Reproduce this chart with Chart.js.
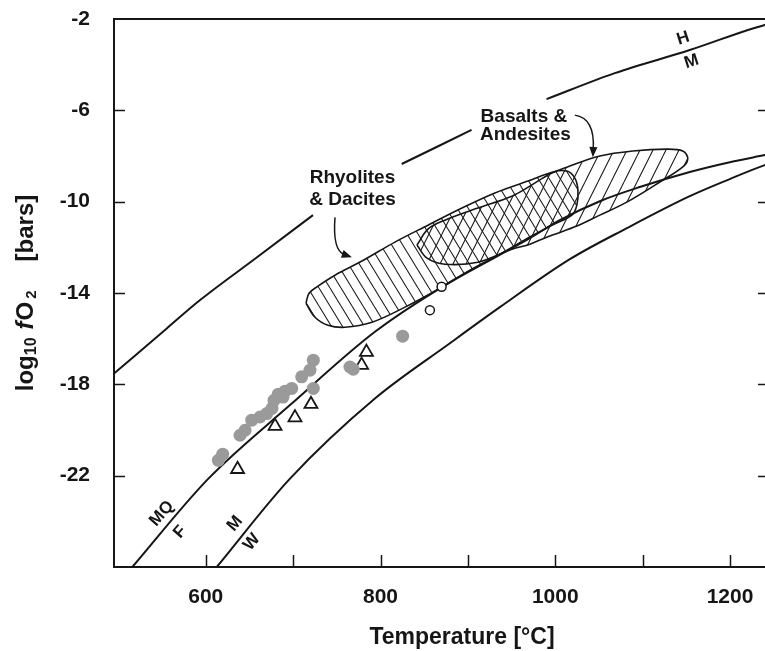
<!DOCTYPE html>
<html>
<head>
<meta charset="utf-8">
<script src="https://cdn.jsdelivr.net/npm/chart.js@4.4.1/dist/chart.umd.min.js"></script>
<style>
  html, body { margin: 0; padding: 0; background: #fff; overflow: hidden; }
  #wrap { position: relative; width: 765px; height: 651px; }
</style>
</head>
<body>
<div id="wrap"><canvas id="chart"></canvas></div>
<script>
// buffer curves: log10 fO2 [bars] against temperature [°C]
// (null = break in the line where a label sits)
const hmTemp = [495, 555.7, 593.5, 656.4, 722.7, 775, 824.2, 904.2, 950, 990.0, 1068.1, 1153.9, 1239.7, 1250];
const hmLogFO2 = [-17.53, -15.54, -14.31, -12.50, -10.59, null, -8.35, -6.86, null, -5.51, -4.37, -3.36, -2.26, -2.18];

const fmqTemp = [508, 516, 603, 696.4, 793.6, 870.3, 970.9, 1005.2, 1051, 1096.7, 1153.9, 1199.7, 1239.7, 1250];
const fmqLogFO2 = [-26.36, -26.0, -22.13, -18.91, -15.70, -13.74, -11.60, -10.81, -9.98, -9.36, -8.70, -8.27, -7.96, -7.88];

const mwTemp = [604, 612.6, 696.4, 793.6, 879.4, 936.6, 1016.7, 1081.9, 1153.9, 1199.7, 1239.7, 1250];
const mwLogFO2 = [-26.4, -26.0, -22.13, -18.62, -16.20, -14.62, -12.52, -11.16, -9.76, -9.01, -8.40, -8.28];

// outline of the Rhyolites & Dacites field (closed)
const rhyoliteTemp = [714.7, 718.2, 728.4, 747.9, 778.8, 816.5, 854.3, 893.2, 930.9, 968.7, 997.3, 1013.3, 1022.4, 1025.9, 1024.7, 1019.0,
  996.1, 970.9, 936.6, 902.3, 868.0, 828.0, 790.2, 759.3, 739.9, 725.0, 714.7];
const rhyoliteLogFO2 = [-14.45, -14.01, -13.70, -13.22, -12.60, -11.77, -11.03, -10.28, -9.62, -9.10, -8.70, -8.66, -8.97, -9.49, -10.15, -10.59,
  -11.03, -11.55, -12.30, -13.00, -13.79, -14.62, -15.28, -15.50, -15.41, -15.06, -14.45];

// outline of the Basalts & Andesites field (closed)
const basaltTemp = [841.7, 854.3, 873.7, 911.4, 950.3, 970.9, 993.8, 1013.3, 1051.0, 1088.8, 1127.6, 1145.9, 1151.6, 1147.0,
  1119.6, 1081.9, 1051.0, 1024.7, 996.1, 970.9, 950.3, 911.4, 873.7, 853.2, 841.7];
const basaltLogFO2 = [-11.90, -11.20, -10.81, -10.28, -9.76, -9.32, -8.79, -8.49, -8.00, -7.78, -7.70, -7.78, -8.09, -8.44,
  -9.14, -10.02, -10.59, -11.07, -11.47, -11.86, -12.08, -12.65, -12.74, -12.47, -11.90];

// samples
const greyDotTemp = [614.4, 619.4, 639.2, 645.0, 652.6, 662.1, 669.8, 675.8, 678.1, 683.0, 688.4, 690.7, 698.4, 709.8, 719.3, 723.1, 723.1, 765.0, 768.8, 825.3];
const greyDotLogFO2 = [-21.33, -21.06, -20.23, -20.01, -19.57, -19.43, -19.28, -19.05, -18.70, -18.43, -18.56, -18.30, -18.18, -17.67, -17.38, -16.94, -18.18, -17.24, -17.34, -15.89];

const triangleTemp = [636.4, 679.3, 702.1, 720.4, 783.9, 778.4];
const triangleLogFO2 = [-21.72, -19.83, -19.46, -18.87, -16.59, -17.16];

const openCircleTemp = [869.9, 856.5];
const openCircleLogFO2 = [-13.73, -14.75];

const xTicks = [600, 700, 800, 900, 1000, 1100, 1200];
const xLabelled = [600, 800, 1000, 1200];
const yTicks = [-22, -18, -14, -10, -6, -2];

const FONT = '"Liberation Sans", Arial, Helvetica, sans-serif';
const INK = '#161616';

const pairs = (xs, ys) => xs.map((x, i) => ({x, y: ys[i]}));

function hatch(w, h, rising) {
  const c = document.createElement('canvas');
  c.width = w; c.height = h;
  const g = c.getContext('2d');
  g.strokeStyle = '#1e1e1e';
  g.lineWidth = 1.1;
  g.beginPath();
  for (const k of [-1, 0, 1]) {
    if (rising) { g.moveTo(k * w, h); g.lineTo((k + 1) * w, 0); }
    else { g.moveTo(k * w, 0); g.lineTo((k + 1) * w, h); }
  }
  g.stroke();
  return g.createPattern(c, 'repeat');
}

// text and arrows sitting on the plot, in data units
const notes = [
  {text: 'Rhyolites', t: 767.9, v: -8.97, size: 19},
  {text: '& Dacites', t: 767.9, v: -9.93, size: 19},
  {text: 'Basalts &', t: 964.1, v: -6.29, size: 19},
  {text: 'Andesites', t: 965.8, v: -7.08, size: 19},
  {text: 'H', t: 1146.3, v: -2.85, size: 17, rot: -18},
  {text: 'M', t: 1155.9, v: -3.87, size: 17, rot: -18},
  {text: 'MQ', t: 549.7, v: -23.66, size: 17, rot: -49},
  {text: 'F', t: 570.6, v: -24.47, size: 17, rot: -49},
  {text: 'M', t: 633.5, v: -24.10, size: 17, rot: -50},
  {text: 'W', t: 652.6, v: -24.91, size: 17, rot: -50},
];
const arrows = [
  [[747.9, -10.69], [745.0, -12.14], [767.3, -12.43]],
  [[1022.4, -6.21], [1045.3, -6.34], [1043.0, -8.05]],
];

const overlay = {
  id: 'overlay',
  afterDraw(chart) {
    const {ctx, chartArea: a, scales: {x, y}} = chart;
    ctx.save();
    ctx.strokeStyle = INK;
    ctx.fillStyle = INK;
    // frame: left, bottom and top
    ctx.lineWidth = 2;
    ctx.beginPath();
    ctx.moveTo(a.left, a.bottom); ctx.lineTo(a.left, a.top); ctx.lineTo(a.right + 2, a.top);
    ctx.moveTo(a.left - 1, a.bottom); ctx.lineTo(a.right + 2, a.bottom);
    ctx.stroke();
    // inward ticks
    ctx.lineWidth = 1.5;
    ctx.beginPath();
    xTicks.forEach(v => {
      const px = Math.round(x.getPixelForValue(v)) + 0.5;
      ctx.moveTo(px, a.bottom); ctx.lineTo(px, a.bottom - 12);
    });
    yTicks.forEach(v => {
      if (v === -2) return;
      const py = Math.round(y.getPixelForValue(v)) + 0.5;
      ctx.moveTo(a.left, py); ctx.lineTo(a.left + 11, py);
      ctx.moveTo(a.right, py); ctx.lineTo(a.right - 7, py);
    });
    ctx.stroke();

    // labels on the plot
    ctx.textAlign = 'center';
    ctx.textBaseline = 'middle';
    notes.forEach(n => {
      ctx.font = `bold ${n.size}px ${FONT}`;
      ctx.save();
      ctx.translate(x.getPixelForValue(n.t), y.getPixelForValue(n.v));
      if (n.rot) ctx.rotate(n.rot * Math.PI / 180);
      ctx.fillText(n.text, 0, 0);
      ctx.restore();
    });

    // curved arrows
    ctx.lineWidth = 1.5;
    arrows.forEach(([s, c, e]) => {
      const p0 = [x.getPixelForValue(s[0]), y.getPixelForValue(s[1])];
      const p1 = [x.getPixelForValue(c[0]), y.getPixelForValue(c[1])];
      const p2 = [x.getPixelForValue(e[0]), y.getPixelForValue(e[1])];
      const ang = Math.atan2(p2[1] - p1[1], p2[0] - p1[0]);
      const back = [p2[0] - 8 * Math.cos(ang), p2[1] - 8 * Math.sin(ang)];
      ctx.beginPath();
      ctx.moveTo(p0[0], p0[1]);
      ctx.quadraticCurveTo(p1[0], p1[1], back[0], back[1]);
      ctx.stroke();
      ctx.beginPath();
      ctx.moveTo(p2[0], p2[1]);
      ctx.lineTo(p2[0] - 11 * Math.cos(ang - 0.38), p2[1] - 11 * Math.sin(ang - 0.38));
      ctx.lineTo(p2[0] - 11 * Math.cos(ang + 0.38), p2[1] - 11 * Math.sin(ang + 0.38));
      ctx.closePath();
      ctx.fill();
    });

    // x axis title
    ctx.textAlign = 'center';
    ctx.textBaseline = 'alphabetic';
    ctx.font = `bold 23px ${FONT}`;
    ctx.fillText('Temperature [°C]', 462, 644);

    // y axis title with sub-scripts, written bottom-up
    const parts = [
      {s: 'log', f: `bold 24px ${FONT}`, dy: 0, gap: 0},
      {s: '10', f: `bold 16px ${FONT}`, dy: 3, gap: 0},
      {s: 'f', f: `italic bold 24px ${FONT}`, dy: 0, gap: 8},
      {s: 'O', f: `bold 24px ${FONT}`, dy: 0, gap: 1},
      {s: '2', f: `bold 15px ${FONT}`, dy: 3, gap: 3},
      {s: '[bars]', f: `bold 24px ${FONT}`, dy: 0, gap: 29},
    ];
    let total = 0;
    parts.forEach(p => { ctx.font = p.f; p.w = ctx.measureText(p.s).width; total += p.w + p.gap; });
    ctx.save();
    ctx.translate(33, (a.top + a.bottom) / 2);
    ctx.rotate(-Math.PI / 2);
    ctx.textAlign = 'left';
    let cx = -total / 2;
    parts.forEach(p => {
      cx += p.gap;
      ctx.font = p.f;
      ctx.fillText(p.s, cx, p.dy);
      cx += p.w;
    });
    ctx.restore();
    ctx.restore();
  }
};

const lineStyle = {
  showLine: true, pointRadius: 0, borderColor: INK, borderWidth: 2,
  cubicInterpolationMode: 'monotone', spanGaps: false, fill: false
};

// keep the plot box where the figure has it: no extra room for tick labels
const noPad = s => { s.paddingTop = 0; s.paddingBottom = 0; s.paddingLeft = 0; s.paddingRight = 0; };

new Chart(document.getElementById('chart'), {
  type: 'scatter',
  data: {
    datasets: [
      {label: 'Rhyolites & Dacites', data: pairs(rhyoliteTemp, rhyoliteLogFO2), showLine: true, pointRadius: 0,
        borderColor: INK, borderWidth: 1.6, tension: 0.35, fill: 'shape', backgroundColor: hatch(11, 18, false), order: 5},
      {label: 'Basalts & Andesites', data: pairs(basaltTemp, basaltLogFO2), showLine: true, pointRadius: 0,
        borderColor: INK, borderWidth: 1.6, tension: 0.35, fill: 'shape', backgroundColor: hatch(13, 26, true), order: 4},
      {label: 'HM', data: pairs(hmTemp, hmLogFO2), ...lineStyle, order: 3},
      {label: 'FMQ', data: pairs(fmqTemp, fmqLogFO2), ...lineStyle, order: 3},
      {label: 'MW', data: pairs(mwTemp, mwLogFO2), ...lineStyle, order: 3},
      {label: 'open circles', data: pairs(openCircleTemp, openCircleLogFO2), pointRadius: 4.5,
        pointBackgroundColor: '#fff', pointBorderColor: INK, pointBorderWidth: 1.5, order: 2},
      {label: 'triangles', data: pairs(triangleTemp, triangleLogFO2), pointStyle: 'triangle', pointRadius: 7.5,
        pointBackgroundColor: '#fff', pointBorderColor: INK, pointBorderWidth: 1.8, order: 1},
      {label: 'grey dots', data: pairs(greyDotTemp, greyDotLogFO2), pointRadius: 6.5,
        pointBackgroundColor: '#9a9a9a', pointBorderWidth: 0, order: 0},
    ]
  },
  options: {
    responsive: true,
    maintainAspectRatio: false,
    animation: false,
    events: [],
    layout: {autoPadding: false, padding: {top: 19, left: 0, right: 0, bottom: 0}},
    plugins: {legend: {display: false}, tooltip: {enabled: false}},
    scales: {
      x: {
        type: 'linear', min: 495, max: 1240,
        grid: {display: false, drawTicks: false}, border: {display: false},
        afterBuildTicks: s => { s.ticks = xTicks.map(v => ({value: v})); },
        afterFit: s => { s.height = 84; noPad(s); },
        ticks: {
          autoSkip: false, maxRotation: 0, minRotation: 0, padding: 18, color: INK,
          font: {family: FONT, size: 21, weight: 'bold'},
          callback: v => xLabelled.includes(v) ? String(v) : ''
        }
      },
      y: {
        type: 'linear', min: -26, max: -2,
        grid: {display: false, drawTicks: false}, border: {display: false},
        afterBuildTicks: s => { s.ticks = yTicks.map(v => ({value: v})); },
        afterFit: s => { s.width = 114; noPad(s); },
        ticks: {
          autoSkip: false, padding: 24, color: INK,
          font: {family: FONT, size: 21, weight: 'bold'},
          callback: v => String(v)
        }
      }
    }
  },
  plugins: [overlay]
});
</script>
</body>
</html>
